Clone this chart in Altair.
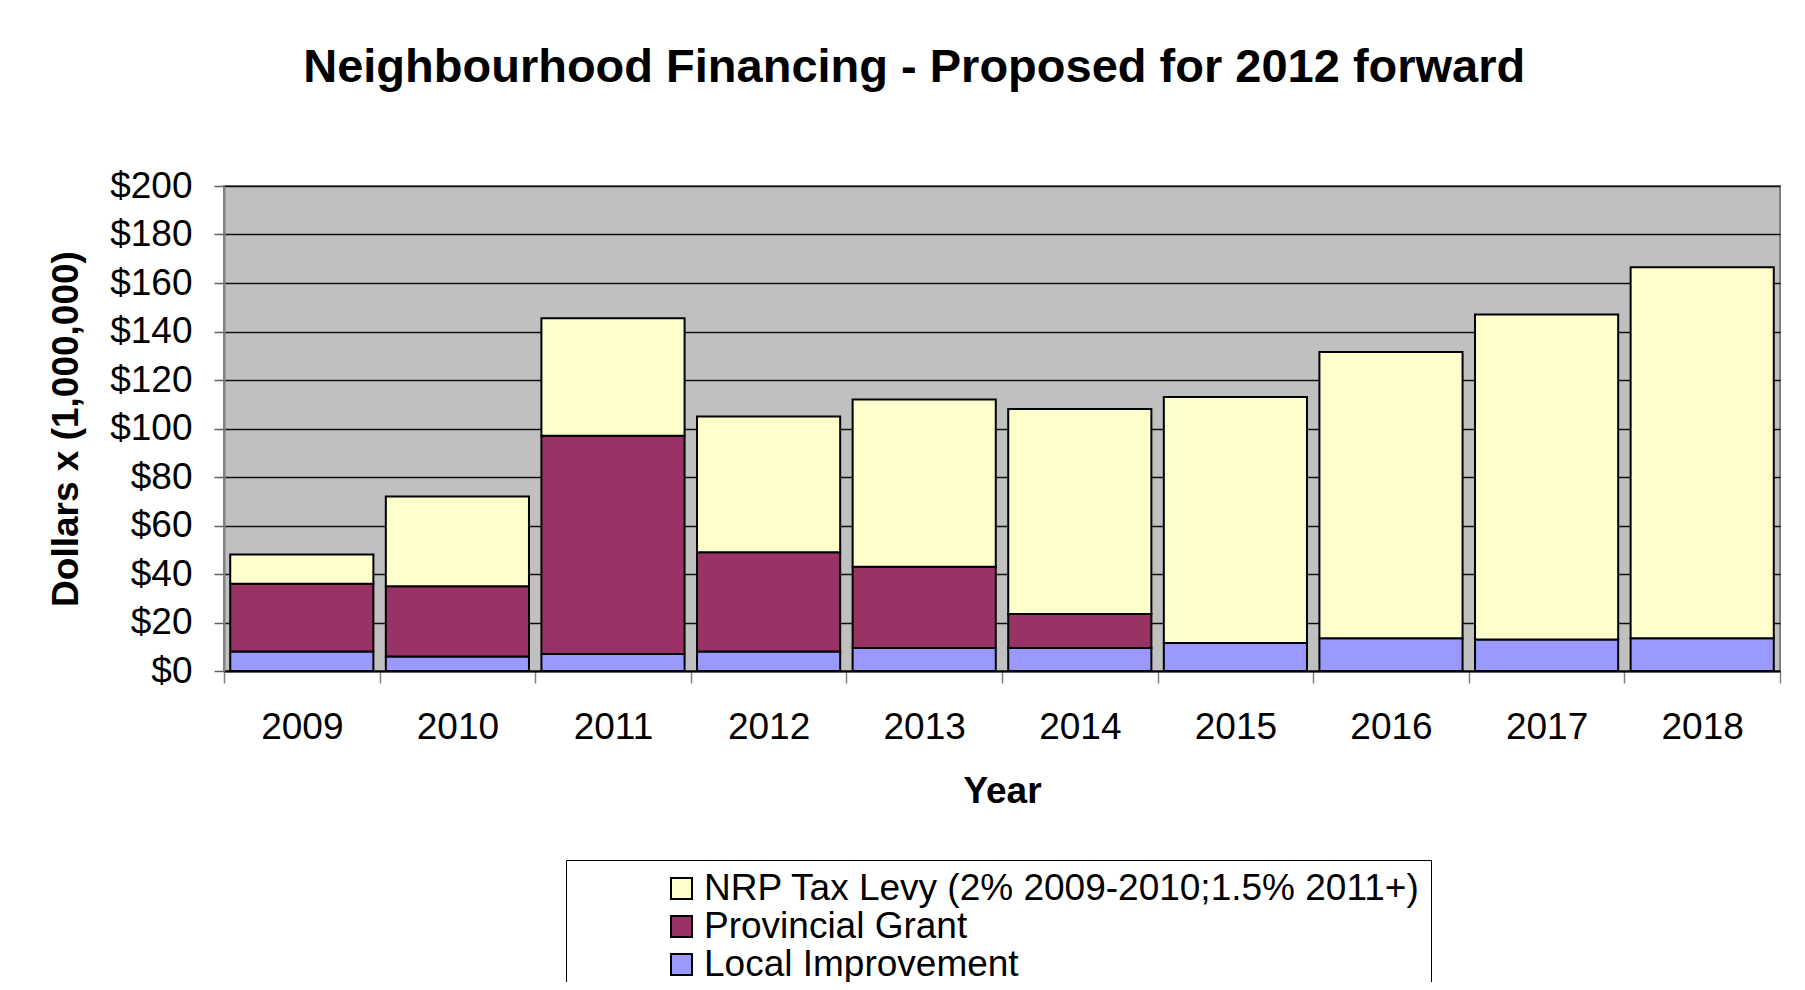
import altair as alt
import pandas as pd

years = ["2009", "2010", "2011", "2012", "2013", "2014", "2015", "2016", "2017", "2018"]
local_improvement = [8, 6, 7, 8, 9.5, 9.5, 11.5, 13.5, 13, 13.5]
provincial_grant = [28, 29, 90, 41, 33.5, 14, 0, 0, 0, 0]
nrp_levy = [12, 37, 48.5, 56, 69, 84.5, 101.5, 118, 134, 153]

series_names = ["NRP Tax Levy (2% 2009-2010;1.5% 2011+)", "Provincial Grant", "Local Improvement"]
series_colors = ["#FFFFCC", "#993366", "#9999FF"]
y_ticks = [0, 20, 40, 60, 80, 100, 120, 140, 160, 180, 200]

rows = []
for i, yr in enumerate(years):
    for name, vals, order in [
        (series_names[2], local_improvement, 1),
        (series_names[1], provincial_grant, 2),
        (series_names[0], nrp_levy, 3),
    ]:
        if vals[i] > 0:
            rows.append({"Year": yr, "Series": name, "Value": vals[i], "ord": order})
df = pd.DataFrame(rows)

FONT = "Liberation Sans"

chart = (
    alt.Chart(df)
    .mark_bar(stroke="black", strokeWidth=2, width=alt.RelativeBandSize(0.92))
    .encode(
        x=alt.X(
            "Year:N",
            title="Year",
            sort=years,
            scale=alt.Scale(paddingInner=0, paddingOuter=0),
            axis=alt.Axis(
                labelAngle=0,
                tickBand="extent",
                tickSize=12,
                tickColor="#808080",
                tickWidth=1.5,
                domainColor="#000000",
                domainWidth=2,
                labelPadding=26,
                titlePadding=28,
                grid=False,
            ),
        ),
        y=alt.Y(
            "Value:Q",
            stack="zero",
            title="Dollars x (1,000,000)",
            scale=alt.Scale(domain=[0, 200], nice=False),
            axis=alt.Axis(
                values=y_ticks,
                labelExpr="'$' + datum.value",
                grid=True,
                gridColor="#101010",
                gridWidth=1.4,
                tickSize=10,
                tickColor="#606060",
                tickWidth=1.5,
                domainColor="#808080",
                domainWidth=2,
                labelPadding=22,
                titlePadding=24,
            ),
        ),
        color=alt.Color(
            "Series:N",
            title=None,
            scale=alt.Scale(domain=series_names, range=series_colors),
            legend=alt.Legend(
                orient="none",
                legendX=342,
                legendY=674,
                padding=10,
                symbolType="square",
                symbolSize=441,
                symbolStrokeColor="black",
                symbolStrokeWidth=2,
                symbolOffset=87,
                labelOffset=4,
                labelFontSize=37,
                labelFont=FONT,
                labelColor="black",
                labelLimit=2000,
                rowPadding=0,
                strokeColor="#000000",
                fillColor="white",
            ),
        ),
        order=alt.Order("ord:Q", sort="ascending"),
    )
    .properties(
        width=1556,
        height=485,
        autosize="none",
        background="white",
        padding={"left": 216, "top": 178, "right": 4, "bottom": 311},
        title=alt.TitleParams(
            "Neighbourhood Financing - Proposed for 2012 forward",
            font=FONT,
            fontSize=47,
            fontWeight="bold",
            color="black",
            anchor="middle",
            frame="bounds",
            offset=75,
        ),
    )
    .configure_view(fill="#C0C0C0", stroke="#808080", strokeWidth=2)
    .configure_axis(
        labelFont=FONT,
        labelFontSize=37,
        labelColor="black",
        titleFont=FONT,
        titleFontSize=37,
        titleFontWeight="bold",
        titleColor="black",
    )
)

chart.save("out.html", embed_options={"renderer": "svg", "actions": False})
